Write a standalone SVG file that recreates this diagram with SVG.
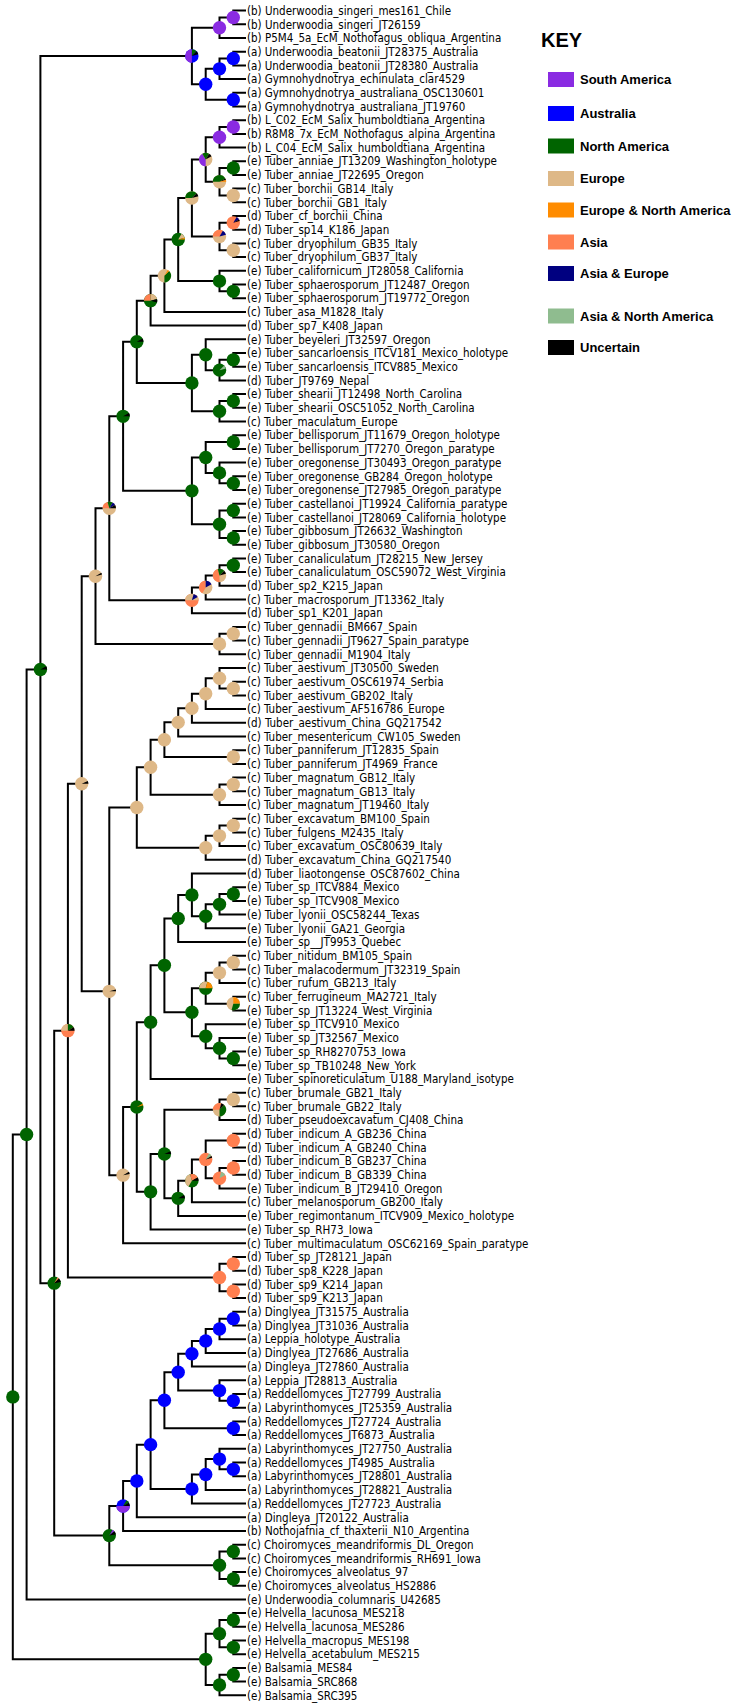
<svg xmlns="http://www.w3.org/2000/svg" width="739" height="1708" viewBox="0 0 739 1708">
<style>
.e{fill:none;stroke:#000;stroke-width:2}
.t{font-family:"DejaVu Sans Condensed","DejaVu Sans",sans-serif;font-stretch:condensed;font-size:11.5px;fill:#000}
.k{font-family:"Liberation Sans",Arial,sans-serif;font-weight:bold;font-size:13px;fill:#000}
.sa{fill:#8A2BE2}.au{fill:#0000FF}.na{fill:#006400}.eu{fill:#DEB887}.ena{fill:#FF8C00}.as{fill:#FF7F50}.ase{fill:#000080}.asna{fill:#8FBC8F}.un{fill:#000}
</style>
<rect width="739" height="1708" fill="#fff"/>
<g id="connectors">
<path class="e" d="M246 10.6H233.3V24.3H246M233.3 17.45H219.5V38H246M246 51.7H233.3V65.4H246M233.3 58.55H219.5V79.1H246M246 92.8H233.3V106.5H246M219.5 68.83H205.7V99.65H233.3M219.5 27.73H191.9V84.24H205.7
M246 120.2H233.3V133.9H246M233.3 127.05H219.5V147.5H246M246 161.2H233.3V174.9H246M246 188.6H233.3V202.3H246M233.3 168.05H219.5V195.45H233.3M219.5 137.28H205.7V181.75H219.5M246 216H233.3V229.7H246M246 243.4H233.3V257.1H246M233.3 222.85H219.5V250.25H233.3M205.7 159.52H191.9V236.55H219.5M246 284.5H233.3V298.2H246M246 270.8H219.5V291.35H233.3M191.9 198.04H178.2V281.08H219.5M178.2 239.56H164.4V311.9H246M164.4 275.73H150.6V325.6H246
M246 353H233.3V366.7H246M233.3 359.85H219.5V380.4H246M246 339.3H205.7V370.13H219.5M246 394.1H233.3V407.8H246M233.3 400.95H219.5V421.5H246M205.7 354.71H191.9V411.23H219.5M150.6 300.67H136.8V382.97H191.9
M246 435.2H233.3V448.9H246M246 476.3H233.3V490H246M246 462.6H219.5V483.15H233.3M233.3 442.05H205.7V472.88H219.5M246 503.7H233.3V517.4H246M246 531.1H233.3V544.8H246M233.3 510.55H219.5V537.95H233.3M205.7 457.46H191.9V524.25H219.5M136.8 341.82H123.1V490.86H191.9
M246 558.4H233.3V572.1H246M233.3 565.25H219.5V585.8H246M219.5 575.53H205.7V599.5H246M205.7 587.51H191.9V613.2H246M123.1 416.34H109.3V600.36H191.9M246 626.9H233.3V640.6H246M233.3 633.75H219.5V654.3H246M109.3 508.35H95.5V644.03H219.5
M246 681.7H233.3V695.4H246M246 668H219.5V688.55H233.3M219.5 678.28H205.7V709.1H246M205.7 693.69H191.9V722.8H246M191.9 708.25H178.2V736.5H246M246 750.2H233.3V763.9H246M178.2 722.37H164.4V757.05H233.3M246 777.6H233.3V791.3H246M233.3 784.45H219.5V805H246M164.4 739.71H150.6V794.73H219.5M246 818.7H233.3V832.4H246M233.3 825.55H219.5V846.1H246M219.5 835.83H205.7V859.8H246M150.6 767.22H136.8V847.81H205.7
M246 887.2H233.3V900.9H246M233.3 894.05H219.5V914.6H246M219.5 904.33H205.7V928.3H246M246 873.5H191.9V916.31H205.7M191.9 894.91H178.2V942H246M246 955.7H233.3V969.4H246M233.3 962.55H219.5V983.1H246M246 996.8H233.3V1010.5H246M219.5 972.83H205.7V1003.65H233.3M246 1051.6H233.3V1065.3H246M246 1037.9H219.5V1058.45H233.3M246 1024.2H205.7V1048.18H219.5M205.7 988.24H191.9V1036.19H205.7M178.2 918.45H164.4V1012.22H191.9M164.4 965.34H150.6V1079H246
M246 1092.7H233.3V1106.3H246M233.3 1099.5H219.5V1120H246M246 1133.7H233.3V1147.4H246M246 1161.1H233.3V1174.8H246M233.3 1167.95H219.5V1188.5H246M233.3 1140.55H205.7V1178.23H219.5M205.7 1159.39H191.9V1202.2H246M191.9 1180.8H178.2V1215.9H246M219.5 1109.75H164.4V1198.35H178.2M164.4 1154.05H150.6V1229.6H246M150.6 1022.17H136.8V1191.83H150.6M136.8 1107H123.1V1243.3H246M136.8 807.52H109.3V1175.15H123.1M95.5 576.19H81.7V991.34H109.3
M246 1257H233.3V1270.7H246M246 1284.4H233.3V1298.1H246M233.3 1263.85H219.5V1291.25H233.3M81.7 783.77H67.9V1277.55H219.5
M246 1311.8H233.3V1325.5H246M233.3 1318.65H219.5V1339.2H246M219.5 1328.93H205.7V1352.9H246M205.7 1340.91H191.9V1366.6H246M246 1394H233.3V1407.7H246M246 1380.3H219.5V1400.85H233.3M191.9 1353.76H178.2V1390.58H219.5M246 1421.4H233.3V1435.1H246M178.2 1372.17H164.4V1428.25H233.3M246 1462.5H233.3V1476.2H246M246 1448.8H219.5V1469.35H233.3M219.5 1459.08H205.7V1489.9H246M205.7 1474.49H191.9V1503.6H246M164.4 1400.21H150.6V1489.05H191.9M150.6 1444.63H136.8V1517.3H246M136.8 1480.97H123.1V1531H246
M246 1544.7H233.3V1558.4H246M246 1572.1H233.3V1585.8H246M233.3 1551.55H219.5V1578.95H233.3M123.1 1505.98H109.3V1565.25H219.5M67.9 1030.66H54.2V1535.62H109.3M191.9 55.99H40.4V1283.14H54.2M40.4 669.57H26.6V1599.4H246
M246 1613.1H233.3V1626.8H246M246 1640.5H233.3V1654.2H246M233.3 1619.95H219.5V1647.35H233.3M246 1667.9H233.3V1681.6H246M233.3 1674.75H219.5V1695.3H246M219.5 1633.65H205.7V1685.03H219.5M26.6 1134.49H12.8V1659.34H205.7"/>
</g>
<g id="nodes">
<circle id="n1" class="sa" cx="233.3" cy="17.45" r="6.7"/>
<circle id="n2" class="sa" cx="219.5" cy="27.73" r="6.7"/>
<circle id="n3" class="au" cx="233.3" cy="58.55" r="6.7"/>
<circle id="n4" class="au" cx="219.5" cy="68.83" r="6.7"/>
<circle id="n5" class="au" cx="233.3" cy="99.65" r="6.7"/>
<circle id="n6" class="au" cx="205.7" cy="84.24" r="6.7"/>
<g id="nG" transform="translate(191.9,55.99)"><circle class="au" r="6.7"/><path class="sa" d="M0 0L0 6.7A6.7 6.7 0 0 1 0 -6.7Z"/><path class="na" d="M0 0L0 -6.7A6.7 6.7 0 0 1 4.74 -4.74Z"/><path class="un" d="M0 0L4.74 -4.74A6.7 6.7 0 0 1 6.47 -1.73Z"/></g>
<circle id="n7" class="sa" cx="233.3" cy="127.05" r="6.7"/>
<circle id="n8" class="sa" cx="219.5" cy="137.28" r="6.7"/>
<circle id="n9" class="na" cx="233.3" cy="168.05" r="6.7"/>
<circle id="n10" class="eu" cx="233.3" cy="195.45" r="6.7"/>
<g id="n11" transform="translate(219.5,181.75)"><circle class="eu" r="6.7"/><path class="na" d="M0 0L-6.7 0A6.7 6.7 0 0 1 5.8 -3.35Z"/><path class="un" d="M0 0L5.8 -3.35A6.7 6.7 0 0 1 6.47 -1.73Z"/><path class="ena" d="M0 0L6.47 -1.73A6.7 6.7 0 0 1 6.7 0Z"/></g>
<g id="n12" transform="translate(205.7,159.52)"><circle class="eu" r="6.7"/><path class="sa" d="M0 0L0 6.7A6.7 6.7 0 0 1 -3.35 -5.8Z"/><path class="na" d="M0 0L-3.35 -5.8A6.7 6.7 0 0 1 3.35 -5.8Z"/><path class="un" d="M0 0L3.35 -5.8A6.7 6.7 0 0 1 5.8 -3.35Z"/></g>
<g id="n13" transform="translate(233.3,222.85)"><circle class="as" r="6.7"/><path class="ase" d="M0 0L3.35 -5.8A6.7 6.7 0 0 1 5.8 -3.35Z"/><path class="un" d="M0 0L5.8 -3.35A6.7 6.7 0 0 1 6.47 -1.73Z"/></g>
<circle id="n14" class="eu" cx="233.3" cy="250.25" r="6.7"/>
<g id="n15" transform="translate(219.5,236.55)"><circle class="eu" r="6.7"/><path class="as" d="M0 0L-6.7 0A6.7 6.7 0 0 1 3.35 -5.8Z"/><path class="ase" d="M0 0L3.35 -5.8A6.7 6.7 0 0 1 6.47 -1.73Z"/></g>
<g id="n16" transform="translate(191.9,198.04)"><circle class="eu" r="6.7"/><path class="na" d="M0 0L-6.7 0A6.7 6.7 0 0 1 4.74 -4.74Z"/><path class="un" d="M0 0L4.74 -4.74A6.7 6.7 0 0 1 6.47 -1.73Z"/></g>
<circle id="n17" class="na" cx="233.3" cy="291.35" r="6.7"/>
<circle id="n18" class="na" cx="219.5" cy="281.08" r="6.7"/>
<g id="n19" transform="translate(178.2,239.56)"><circle class="na" r="6.7"/><path class="eu" d="M0 0L3.35 -5.8A6.7 6.7 0 0 1 6.47 -1.73Z"/><path class="ena" d="M0 0L6.47 -1.73A6.7 6.7 0 0 1 6.7 0Z"/></g>
<g id="n20" transform="translate(164.4,275.73)"><circle class="eu" r="6.7"/><path class="na" d="M0 0L4.74 -4.74A6.7 6.7 0 0 1 0 6.7Z"/><path class="ena" d="M0 0L3.35 -5.8A6.7 6.7 0 0 1 4.74 -4.74Z"/></g>
<g id="n21" transform="translate(150.6,300.67)"><circle class="na" r="6.7"/><path class="as" d="M0 0L-6.7 0A6.7 6.7 0 0 1 0 -6.7Z"/><path class="eu" d="M0 0L0 -6.7A6.7 6.7 0 0 1 6.47 -1.73Z"/><path class="un" d="M0 0L6.47 -1.73A6.7 6.7 0 0 1 6.47 1.73Z"/></g>
<circle id="n22" class="na" cx="233.3" cy="359.85" r="6.7"/>
<g id="n23" transform="translate(219.5,370.13)"><circle class="na" r="6.7"/><path class="asna" d="M0 0L4.74 -4.74A6.7 6.7 0 0 1 6.47 -1.73Z"/></g>
<circle id="n24" class="na" cx="205.7" cy="354.71" r="6.7"/>
<circle id="n25" class="na" cx="233.3" cy="400.95" r="6.7"/>
<circle id="n26" class="na" cx="219.5" cy="411.23" r="6.7"/>
<circle id="n27" class="na" cx="191.9" cy="382.97" r="6.7"/>
<g id="n28" transform="translate(136.8,341.82)"><circle class="na" r="6.7"/><path class="un" d="M0 0L5.8 -3.35A6.7 6.7 0 0 1 6.7 0Z"/></g>
<circle id="n29" class="na" cx="233.3" cy="442.05" r="6.7"/>
<circle id="n30" class="na" cx="233.3" cy="483.15" r="6.7"/>
<circle id="n31" class="na" cx="219.5" cy="472.88" r="6.7"/>
<circle id="n32" class="na" cx="205.7" cy="457.46" r="6.7"/>
<circle id="n33" class="na" cx="233.3" cy="510.55" r="6.7"/>
<circle id="n34" class="na" cx="233.3" cy="537.95" r="6.7"/>
<circle id="n35" class="na" cx="219.5" cy="524.25" r="6.7"/>
<circle id="n36" class="na" cx="191.9" cy="490.86" r="6.7"/>
<g id="n37" transform="translate(123.1,416.34)"><circle class="na" r="6.7"/><path class="un" d="M0 0L5.8 -3.35A6.7 6.7 0 0 1 6.7 0Z"/></g>
<circle id="n38" class="na" cx="233.3" cy="565.25" r="6.7"/>
<g id="n39" transform="translate(219.5,575.53)"><circle class="eu" r="6.7"/><path class="as" d="M0 0L0 6.7A6.7 6.7 0 0 1 -1.73 -6.47Z"/><path class="na" d="M0 0L-1.73 -6.47A6.7 6.7 0 0 1 4.74 -4.74Z"/><path class="un" d="M0 0L4.74 -4.74A6.7 6.7 0 0 1 6.47 -1.73Z"/></g>
<g id="n40" transform="translate(205.7,587.51)"><circle class="eu" r="6.7"/><path class="as" d="M0 0L-3.35 5.8A6.7 6.7 0 0 1 0 -6.7Z"/><path class="ase" d="M0 0L0 -6.7A6.7 6.7 0 0 1 5.8 -3.35Z"/></g>
<g id="n41" transform="translate(191.9,600.36)"><circle class="as" r="6.7"/><path class="eu" d="M0 0L-6.7 0A6.7 6.7 0 0 1 6.7 0Z"/><path class="ase" d="M0 0L1.73 -6.47A6.7 6.7 0 0 1 5.8 -3.35Z"/></g>
<g id="n42" transform="translate(109.3,508.35)"><circle class="eu" r="6.7"/><path class="as" d="M0 0L-6.7 0A6.7 6.7 0 0 1 -1.73 -6.47Z"/><path class="na" d="M0 0L-1.73 -6.47A6.7 6.7 0 0 1 3.35 -5.8Z"/><path class="ase" d="M0 0L3.35 -5.8A6.7 6.7 0 0 1 5.8 -3.35Z"/><path class="un" d="M0 0L5.8 -3.35A6.7 6.7 0 0 1 6.7 0Z"/></g>
<circle id="n43" class="eu" cx="233.3" cy="633.75" r="6.7"/>
<circle id="n44" class="eu" cx="219.5" cy="644.03" r="6.7"/>
<g id="n45" transform="translate(95.5,576.19)"><circle class="eu" r="6.7"/><path class="un" d="M0 0L5.8 -3.35A6.7 6.7 0 0 1 6.47 -1.73Z"/></g>
<circle id="n46" class="eu" cx="233.3" cy="688.55" r="6.7"/>
<circle id="n47" class="eu" cx="219.5" cy="678.28" r="6.7"/>
<circle id="n48" class="eu" cx="205.7" cy="693.69" r="6.7"/>
<circle id="n49" class="eu" cx="191.9" cy="708.25" r="6.7"/>
<circle id="n50" class="eu" cx="178.2" cy="722.37" r="6.7"/>
<circle id="n51" class="eu" cx="233.3" cy="757.05" r="6.7"/>
<circle id="n52" class="eu" cx="164.4" cy="739.71" r="6.7"/>
<circle id="n53" class="eu" cx="233.3" cy="784.45" r="6.7"/>
<circle id="n54" class="eu" cx="219.5" cy="794.73" r="6.7"/>
<circle id="n55" class="eu" cx="150.6" cy="767.22" r="6.7"/>
<circle id="n56" class="eu" cx="233.3" cy="825.55" r="6.7"/>
<circle id="n57" class="eu" cx="219.5" cy="835.83" r="6.7"/>
<circle id="n58" class="eu" cx="205.7" cy="847.81" r="6.7"/>
<circle id="n59" class="eu" cx="136.8" cy="807.52" r="6.7"/>
<circle id="n60" class="na" cx="233.3" cy="894.05" r="6.7"/>
<circle id="n61" class="na" cx="219.5" cy="904.33" r="6.7"/>
<circle id="n62" class="na" cx="205.7" cy="916.31" r="6.7"/>
<circle id="n63" class="na" cx="191.9" cy="894.91" r="6.7"/>
<circle id="n64" class="na" cx="178.2" cy="918.45" r="6.7"/>
<circle id="n65" class="eu" cx="233.3" cy="962.55" r="6.7"/>
<circle id="n66" class="eu" cx="219.5" cy="972.83" r="6.7"/>
<g id="n67" transform="translate(233.3,1003.65)"><circle class="eu" r="6.7"/><path class="ena" d="M0 0L0 -6.7A6.7 6.7 0 0 1 6.7 0Z"/><path class="na" d="M0 0L6.7 0A6.7 6.7 0 0 1 -1.73 6.47Z"/></g>
<g id="n68" transform="translate(205.7,988.24)"><circle class="na" r="6.7"/><path class="eu" d="M0 0L-6.7 0A6.7 6.7 0 0 1 1.73 -6.47Z"/><path class="ena" d="M0 0L1.73 -6.47A6.7 6.7 0 0 1 6.7 0Z"/></g>
<circle id="n69" class="na" cx="233.3" cy="1058.45" r="6.7"/>
<circle id="n70" class="na" cx="219.5" cy="1048.18" r="6.7"/>
<circle id="n71" class="na" cx="205.7" cy="1036.19" r="6.7"/>
<circle id="n72" class="na" cx="191.9" cy="1012.22" r="6.7"/>
<circle id="n73" class="na" cx="164.4" cy="965.34" r="6.7"/>
<circle id="n74" class="na" cx="150.6" cy="1022.17" r="6.7"/>
<circle id="n75" class="eu" cx="233.3" cy="1099.5" r="6.7"/>
<g id="n76" transform="translate(219.5,1109.75)"><circle class="eu" r="6.7"/><path class="as" d="M0 0L-6.7 0A6.7 6.7 0 0 1 1.73 -6.47Z"/><path class="un" d="M0 0L1.73 -6.47A6.7 6.7 0 0 1 4.74 -4.74Z"/><path class="na" d="M0 0L4.74 -4.74A6.7 6.7 0 0 1 0 6.7Z"/></g>
<circle id="n77" class="as" cx="233.3" cy="1140.55" r="6.7"/>
<circle id="n78" class="as" cx="233.3" cy="1167.95" r="6.7"/>
<g id="n79" transform="translate(219.5,1178.23)"><circle class="as" r="6.7"/><path class="asna" d="M0 0L1.73 -6.47A6.7 6.7 0 0 1 5.8 -3.35Z"/></g>
<g id="n80" transform="translate(205.7,1159.39)"><circle class="as" r="6.7"/><path class="asna" d="M0 0L3.35 -5.8A6.7 6.7 0 0 1 5.8 -3.35Z"/><path class="un" d="M0 0L5.8 -3.35A6.7 6.7 0 0 1 6.47 -1.73Z"/></g>
<g id="n81" transform="translate(191.9,1180.8)"><circle class="na" r="6.7"/><path class="eu" d="M0 0L-3.35 5.8A6.7 6.7 0 0 1 -1.73 -6.47Z"/><path class="as" d="M0 0L-1.73 -6.47A6.7 6.7 0 0 1 5.8 -3.35Z"/><path class="un" d="M0 0L5.8 -3.35A6.7 6.7 0 0 1 6.7 0Z"/></g>
<g id="n82" transform="translate(178.2,1198.35)"><circle class="na" r="6.7"/><path class="un" d="M0 0L5.8 -3.35A6.7 6.7 0 0 1 6.7 0Z"/></g>
<g id="n83" transform="translate(164.4,1154.05)"><circle class="na" r="6.7"/><path class="un" d="M0 0L6.07 -2.83A6.7 6.7 0 0 1 6.7 0Z"/></g>
<circle id="n84" class="na" cx="150.6" cy="1191.83" r="6.7"/>
<g id="n85" transform="translate(136.8,1107)"><circle class="na" r="6.7"/><path class="ena" d="M0 0L5.8 -3.35A6.7 6.7 0 0 1 6.47 -1.73Z"/></g>
<g id="n86" transform="translate(123.1,1175.15)"><circle class="eu" r="6.7"/><path class="un" d="M0 0L5.8 -3.35A6.7 6.7 0 0 1 6.6 -1.16Z"/></g>
<g id="n87" transform="translate(109.3,991.34)"><circle class="eu" r="6.7"/><path class="un" d="M0 0L6.47 -1.73A6.7 6.7 0 0 1 6.7 0Z"/></g>
<g id="n88" transform="translate(81.7,783.77)"><circle class="eu" r="6.7"/><path class="un" d="M0 0L6.07 -2.83A6.7 6.7 0 0 1 6.7 0Z"/></g>
<circle id="n89" class="as" cx="233.3" cy="1263.85" r="6.7"/>
<circle id="n90" class="as" cx="233.3" cy="1291.25" r="6.7"/>
<circle id="n91" class="as" cx="219.5" cy="1277.55" r="6.7"/>
<g id="n92" transform="translate(67.9,1030.66)"><circle class="as" r="6.7"/><path class="eu" d="M0 0L-6.7 0A6.7 6.7 0 0 1 0 -6.7Z"/><path class="na" d="M0 0L0 -6.7A6.7 6.7 0 0 1 5.8 -3.35Z"/><path class="un" d="M0 0L5.8 -3.35A6.7 6.7 0 0 1 6.7 0Z"/></g>
<circle id="n93" class="au" cx="233.3" cy="1318.65" r="6.7"/>
<circle id="n94" class="au" cx="219.5" cy="1328.93" r="6.7"/>
<circle id="n95" class="au" cx="205.7" cy="1340.91" r="6.7"/>
<circle id="n96" class="au" cx="191.9" cy="1353.76" r="6.7"/>
<circle id="n97" class="au" cx="233.3" cy="1400.85" r="6.7"/>
<circle id="n98" class="au" cx="219.5" cy="1390.58" r="6.7"/>
<circle id="n99" class="au" cx="178.2" cy="1372.17" r="6.7"/>
<circle id="n100" class="au" cx="233.3" cy="1428.25" r="6.7"/>
<circle id="n101" class="au" cx="164.4" cy="1400.21" r="6.7"/>
<circle id="n102" class="au" cx="233.3" cy="1469.35" r="6.7"/>
<circle id="n103" class="au" cx="219.5" cy="1459.08" r="6.7"/>
<circle id="n104" class="au" cx="205.7" cy="1474.49" r="6.7"/>
<circle id="n105" class="au" cx="191.9" cy="1489.05" r="6.7"/>
<circle id="n106" class="au" cx="150.6" cy="1444.63" r="6.7"/>
<circle id="n107" class="au" cx="136.8" cy="1480.97" r="6.7"/>
<g id="n108" transform="translate(123.1,1505.98)"><circle class="au" r="6.7"/><path class="sa" d="M0 0L6.7 0A6.7 6.7 0 0 1 -6.7 0Z"/><path class="na" d="M0 0L3.35 -5.8A6.7 6.7 0 0 1 5.8 -3.35Z"/><path class="un" d="M0 0L5.8 -3.35A6.7 6.7 0 0 1 6.7 0Z"/></g>
<circle id="n109" class="na" cx="233.3" cy="1551.55" r="6.7"/>
<circle id="n110" class="na" cx="233.3" cy="1578.95" r="6.7"/>
<circle id="n111" class="na" cx="219.5" cy="1565.25" r="6.7"/>
<g id="n112" transform="translate(109.3,1535.62)"><circle class="na" r="6.7"/><path class="sa" d="M0 0L3.35 -5.8A6.7 6.7 0 0 1 5.13 -4.31Z"/><path class="un" d="M0 0L5.13 -4.31A6.7 6.7 0 0 1 6.6 -1.16Z"/></g>
<g id="n113" transform="translate(54.2,1283.14)"><circle class="na" r="6.7"/><path class="as" d="M0 0L3.35 -5.8A6.7 6.7 0 0 1 4.74 -4.74Z"/><path class="un" d="M0 0L4.74 -4.74A6.7 6.7 0 0 1 6.6 -1.16Z"/></g>
<g id="n114" transform="translate(40.4,669.57)"><circle class="na" r="6.7"/><path class="un" d="M0 0L5.8 -3.35A6.7 6.7 0 0 1 6.7 0Z"/></g>
<circle id="n115" class="na" cx="26.6" cy="1134.49" r="6.7"/>
<circle id="n116" class="na" cx="233.3" cy="1619.95" r="6.7"/>
<circle id="n117" class="na" cx="233.3" cy="1647.35" r="6.7"/>
<circle id="n118" class="na" cx="219.5" cy="1633.65" r="6.7"/>
<circle id="n119" class="na" cx="233.3" cy="1674.75" r="6.7"/>
<circle id="n120" class="na" cx="219.5" cy="1685.03" r="6.7"/>
<circle id="n121" class="na" cx="205.7" cy="1659.34" r="6.7"/>
<circle id="root" class="na" cx="12.8" cy="1396.92" r="6.7"/>
</g>
<g id="tips" class="t">
<text x="247" y="14.8">(b) Underwoodia_singeri_mes161_Chile</text>
<text x="247" y="28.5">(b) Underwoodia_singeri_JT26159</text>
<text x="247" y="42.2">(b) P5M4_5a_EcM_Nothofagus_obliqua_Argentina</text>
<text x="247" y="55.9">(a) Underwoodia_beatonii_JT28375_Australia</text>
<text x="247" y="69.6">(a) Underwoodia_beatonii_JT28380_Australia</text>
<text x="247" y="83.3">(a) Gymnohydnotrya_echinulata_clar4529</text>
<text x="247" y="97">(a) Gymnohydnotrya_australiana_OSC130601</text>
<text x="247" y="110.7">(a) Gymnohydnotrya_australiana_JT19760</text>
<text x="247" y="124.4">(b) L_C02_EcM_Salix_humboldtiana_Argentina</text>
<text x="247" y="138.1">(b) R8M8_7x_EcM_Nothofagus_alpina_Argentina</text>
<text x="247" y="151.7">(b) L_C04_EcM_Salix_humboldtiana_Argentina</text>
<text x="247" y="165.4">(e) Tuber_anniae_JT13209_Washington_holotype</text>
<text x="247" y="179.1">(e) Tuber_anniae_JT22695_Oregon</text>
<text x="247" y="192.8">(c) Tuber_borchii_GB14_Italy</text>
<text x="247" y="206.5">(c) Tuber_borchii_GB1_Italy</text>
<text x="247" y="220.2">(d) Tuber_cf_borchii_China</text>
<text x="247" y="233.9">(d) Tuber_sp14_K186_Japan</text>
<text x="247" y="247.6">(c) Tuber_dryophilum_GB35_Italy</text>
<text x="247" y="261.3">(c) Tuber_dryophilum_GB37_Italy</text>
<text x="247" y="275">(e) Tuber_californicum_JT28058_California</text>
<text x="247" y="288.7">(e) Tuber_sphaerosporum_JT12487_Oregon</text>
<text x="247" y="302.4">(e) Tuber_sphaerosporum_JT19772_Oregon</text>
<text x="247" y="316.1">(c) Tuber_asa_M1828_Italy</text>
<text x="247" y="329.8">(d) Tuber_sp7_K408_Japan</text>
<text x="247" y="343.5">(e) Tuber_beyeleri_JT32597_Oregon</text>
<text x="247" y="357.2">(e) Tuber_sancarloensis_ITCV181_Mexico_holotype</text>
<text x="247" y="370.9">(e) Tuber_sancarloensis_ITCV885_Mexico</text>
<text x="247" y="384.6">(d) Tuber_JT9769_Nepal</text>
<text x="247" y="398.3">(e) Tuber_shearii_JT12498_North_Carolina</text>
<text x="247" y="412">(e) Tuber_shearii_OSC51052_North_Carolina</text>
<text x="247" y="425.7">(c) Tuber_maculatum_Europe</text>
<text x="247" y="439.4">(e) Tuber_bellisporum_JT11679_Oregon_holotype</text>
<text x="247" y="453.1">(e) Tuber_bellisporum_JT7270_Oregon_paratype</text>
<text x="247" y="466.8">(e) Tuber_oregonense_JT30493_Oregon_paratype</text>
<text x="247" y="480.5">(e) Tuber_oregonense_GB284_Oregon_holotype</text>
<text x="247" y="494.2">(e) Tuber_oregonense_JT27985_Oregon_paratype</text>
<text x="247" y="507.9">(e) Tuber_castellanoi_JT19924_California_paratype</text>
<text x="247" y="521.6">(e) Tuber_castellanoi_JT28069_California_holotype</text>
<text x="247" y="535.3">(e) Tuber_gibbosum_JT26632_Washington</text>
<text x="247" y="549">(e) Tuber_gibbosum_JT30580_Oregon</text>
<text x="247" y="562.6">(e) Tuber_canaliculatum_JT28215_New_Jersey</text>
<text x="247" y="576.3">(e) Tuber_canaliculatum_OSC59072_West_Virginia</text>
<text x="247" y="590">(d) Tuber_sp2_K215_Japan</text>
<text x="247" y="603.7">(c) Tuber_macrosporum_JT13362_Italy</text>
<text x="247" y="617.4">(d) Tuber_sp1_K201_Japan</text>
<text x="247" y="631.1">(c) Tuber_gennadii_BM667_Spain</text>
<text x="247" y="644.8">(c) Tuber_gennadii_JT9627_Spain_paratype</text>
<text x="247" y="658.5">(c) Tuber_gennadii_M1904_Italy</text>
<text x="247" y="672.2">(c) Tuber_aestivum_JT30500_Sweden</text>
<text x="247" y="685.9">(c) Tuber_aestivum_OSC61974_Serbia</text>
<text x="247" y="699.6">(c) Tuber_aestivum_GB202_Italy</text>
<text x="247" y="713.3">(c) Tuber_aestivum_AF516786_Europe</text>
<text x="247" y="727">(d) Tuber_aestivum_China_GQ217542</text>
<text x="247" y="740.7">(c) Tuber_mesentericum_CW105_Sweden</text>
<text x="247" y="754.4">(c) Tuber_panniferum_JT12835_Spain</text>
<text x="247" y="768.1">(c) Tuber_panniferum_JT4969_France</text>
<text x="247" y="781.8">(c) Tuber_magnatum_GB12_Italy</text>
<text x="247" y="795.5">(c) Tuber_magnatum_GB13_Italy</text>
<text x="247" y="809.2">(c) Tuber_magnatum_JT19460_Italy</text>
<text x="247" y="822.9">(c) Tuber_excavatum_BM100_Spain</text>
<text x="247" y="836.6">(c) Tuber_fulgens_M2435_Italy</text>
<text x="247" y="850.3">(c) Tuber_excavatum_OSC80639_Italy</text>
<text x="247" y="864">(d) Tuber_excavatum_China_GQ217540</text>
<text x="247" y="877.7">(d) Tuber_liaotongense_OSC87602_China</text>
<text x="247" y="891.4">(e) Tuber_sp_ITCV884_Mexico</text>
<text x="247" y="905.1">(e) Tuber_sp_ITCV908_Mexico</text>
<text x="247" y="918.8">(e) Tuber_lyonii_OSC58244_Texas</text>
<text x="247" y="932.5">(e) Tuber_lyonii_GA21_Georgia</text>
<text x="247" y="946.2">(e) Tuber_sp__JT9953_Quebec</text>
<text x="247" y="959.9">(c) Tuber_nitidum_BM105_Spain</text>
<text x="247" y="973.6">(c) Tuber_malacodermum_JT32319_Spain</text>
<text x="247" y="987.3">(c) Tuber_rufum_GB213_Italy</text>
<text x="247" y="1001">(c) Tuber_ferrugineum_MA2721_Italy</text>
<text x="247" y="1014.7">(e) Tuber_sp_JT13224_West_Virginia</text>
<text x="247" y="1028.4">(e) Tuber_sp_ITCV910_Mexico</text>
<text x="247" y="1042.1">(e) Tuber_sp_JT32567_Mexico</text>
<text x="247" y="1055.8">(e) Tuber_sp_RH8270753_Iowa</text>
<text x="247" y="1069.5">(e) Tuber_sp_TB10248_New_York</text>
<text x="247" y="1083.2">(e) Tuber_spinoreticulatum_U188_Maryland_isotype</text>
<text x="247" y="1096.9">(c) Tuber_brumale_GB21_Italy</text>
<text x="247" y="1110.5">(c) Tuber_brumale_GB22_Italy</text>
<text x="247" y="1124.2">(d) Tuber_pseudoexcavatum_CJ408_China</text>
<text x="247" y="1137.9">(d) Tuber_indicum_A_GB236_China</text>
<text x="247" y="1151.6">(d) Tuber_indicum_A_GB240_China</text>
<text x="247" y="1165.3">(d) Tuber_indicum_B_GB237_China</text>
<text x="247" y="1179">(d) Tuber_indicum_B_GB339_China</text>
<text x="247" y="1192.7">(e) Tuber_indicum_B_JT29410_Oregon</text>
<text x="247" y="1206.4">(c) Tuber_melanosporum_GB200_Italy</text>
<text x="247" y="1220.1">(e) Tuber_regimontanum_ITCV909_Mexico_holotype</text>
<text x="247" y="1233.8">(e) Tuber_sp_RH73_Iowa</text>
<text x="247" y="1247.5">(c) Tuber_multimaculatum_OSC62169_Spain_paratype</text>
<text x="247" y="1261.2">(d) Tuber_sp_JT28121_Japan</text>
<text x="247" y="1274.9">(d) Tuber_sp8_K228_Japan</text>
<text x="247" y="1288.6">(d) Tuber_sp9_K214_Japan</text>
<text x="247" y="1302.3">(d) Tuber_sp9_K213_Japan</text>
<text x="247" y="1316">(a) Dinglyea_JT31575_Australia</text>
<text x="247" y="1329.7">(a) Dinglyea_JT31036_Australia</text>
<text x="247" y="1343.4">(a) Leppia_holotype_Australia</text>
<text x="247" y="1357.1">(a) Dinglyea_JT27686_Australia</text>
<text x="247" y="1370.8">(a) Dingleya_JT27860_Australia</text>
<text x="247" y="1384.5">(a) Leppia_JT28813_Australia</text>
<text x="247" y="1398.2">(a) Reddellomyces_JT27799_Australia</text>
<text x="247" y="1411.9">(a) Labyrinthomyces_JT25359_Australia</text>
<text x="247" y="1425.6">(a) Reddellomyces_JT27724_Australia</text>
<text x="247" y="1439.3">(a) Reddellomyces_JT6873_Australia</text>
<text x="247" y="1453">(a) Labyrinthomyces_JT27750_Australia</text>
<text x="247" y="1466.7">(a) Reddellomyces_JT4985_Australia</text>
<text x="247" y="1480.4">(a) Labyrinthomyces_JT28801_Australia</text>
<text x="247" y="1494.1">(a) Labyrinthomyces_JT28821_Australia</text>
<text x="247" y="1507.8">(a) Reddellomyces_JT27723_Australia</text>
<text x="247" y="1521.5">(a) Dingleya_JT20122_Australia</text>
<text x="247" y="1535.2">(b) Nothojafnia_cf_thaxterii_N10_Argentina</text>
<text x="247" y="1548.9">(c) Choiromyces_meandriformis_DL_Oregon</text>
<text x="247" y="1562.6">(c) Choiromyces_meandriformis_RH691_Iowa</text>
<text x="247" y="1576.3">(e) Choiromyces_alveolatus_97</text>
<text x="247" y="1590">(e) Choiromyces_alveolatus_HS2886</text>
<text x="247" y="1603.6">(e) Underwoodia_columnaris_U42685</text>
<text x="247" y="1617.3">(e) Helvella_lacunosa_MES218</text>
<text x="247" y="1631">(e) Helvella_lacunosa_MES286</text>
<text x="247" y="1644.7">(e) Helvella_macropus_MES198</text>
<text x="247" y="1658.4">(e) Helvella_acetabulum_MES215</text>
<text x="247" y="1672.1">(e) Balsamia_MES84</text>
<text x="247" y="1685.8">(e) Balsamia_SRC868</text>
<text x="247" y="1699.5">(e) Balsamia_SRC395</text>
</g>
<g id="key">
<text x="541" y="47" style="font-family:'Liberation Sans',Arial,sans-serif;font-weight:bold;font-size:20px">KEY</text>
<rect class="sa" x="548" y="72" width="26" height="15"/><text class="k" x="580" y="84">South America</text>
<rect class="au" x="548" y="106" width="26" height="15"/><text class="k" x="580" y="118">Australia</text>
<rect class="na" x="548" y="138.5" width="26" height="15"/><text class="k" x="580" y="150.5">North America</text>
<rect class="eu" x="548" y="171" width="26" height="15"/><text class="k" x="580" y="183">Europe</text>
<rect class="ena" x="548" y="202.5" width="26" height="15"/><text class="k" x="580" y="214.5">Europe &amp; North America</text>
<rect class="as" x="548" y="234.5" width="26" height="15"/><text class="k" x="580" y="246.5">Asia</text>
<rect class="ase" x="548" y="266" width="26" height="15"/><text class="k" x="580" y="278">Asia &amp; Europe</text>
<rect class="asna" x="548" y="308.5" width="26" height="15"/><text class="k" x="580" y="320.5">Asia &amp; North America</text>
<rect class="un" x="548" y="340" width="26" height="15"/><text class="k" x="580" y="352">Uncertain</text>
</g>
</svg>
